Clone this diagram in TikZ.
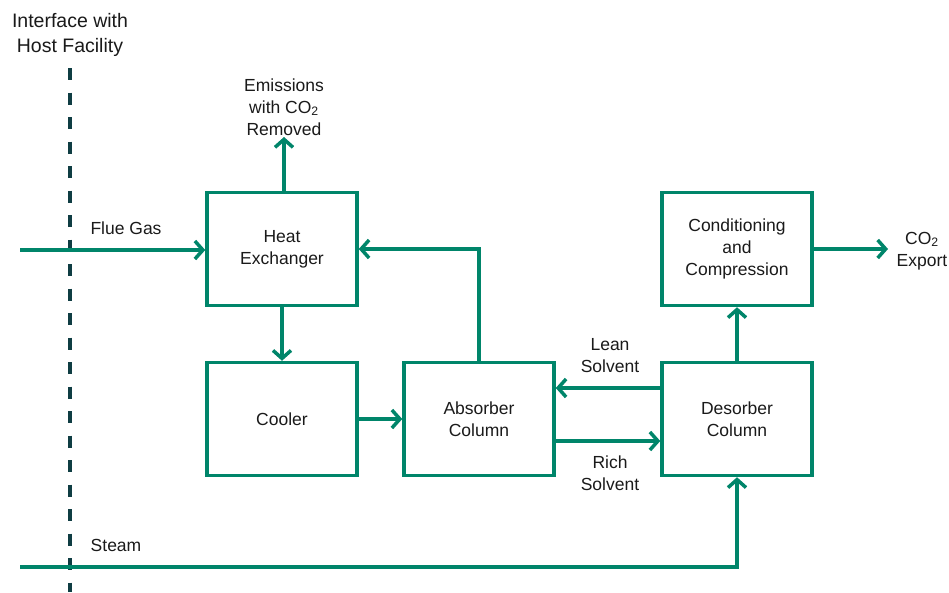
\documentclass[tikz,border=0pt]{standalone}
\usepackage{fontspec}
\setmainfont{Liberation Sans}
\usetikzlibrary{arrows.meta}
\definecolor{flowgreen}{HTML}{00856A}
\definecolor{hostline}{HTML}{0F3D43}
\definecolor{txt}{HTML}{1A1A1A}
\begin{document}
\begin{tikzpicture}[x=1pt,y=-1pt,
  every node/.style={text=txt,font=\fontsize{17.5}{22}\selectfont,align=center},
  unit/.style={draw=flowgreen,line width=3.5pt,minimum width=150pt,minimum height=113pt,inner sep=2pt},
  flow/.style={draw=flowgreen,line width=3.5pt,-{Straight Barb[length=8pt,width=18pt]}}]
\useasboundingbox[fill=white] (0,0) rectangle (949,592);

% interface boundary with the host facility
\node[font=\fontsize{19.5}{25}\selectfont] (iface) at (70,35) {Interface with\\Host Facility};
\coordinate (bt) at (70,68);
\coordinate (bb) at (70,592);
\draw[hostline,line width=3.5pt,dash pattern=on 12pt off 12.5pt] (bt) -- (bb);

% process units
\node[unit] (hx)   at (282,249) {Heat\\Exchanger};
\node[unit] (cool) at (282,419) {Cooler};
\node[unit] (abs)  at (479,419) {Absorber\\Column};
\node[unit] (des)  at (737,419) {Desorber\\Column};
\node[unit] (cond) at (737,249) {Conditioning\\and\\Compression};

% stream labels
\node (em)   at (284,107) {Emissions\\with CO\textsubscript{2}\\Removed};
\node (fgl)  at (126,228) {Flue Gas};
\node (lean) at (610,356) {Lean\\Solvent};
\node (rich) at (610,473) {Rich\\Solvent};
\node (exp)  at (922,251) {CO\textsubscript{2}\\Export};
\node (stl)  at (116,545) {Steam};

% free ends of streams
\coordinate (fg) at (20,250);
\coordinate (st) at (20,567);
\coordinate (emt) at (284,137);
\coordinate (co2) at (888,249);

% streams
\draw[flow] (fg) -- (hx.west |- fg);
\draw[flow] (hx.north -| emt) -- (emt);
\draw[flow] (hx.south) -- (cool.north);
\draw[flow] (cool.east) -- (abs.west);
\draw[flow] (abs.north) |- (hx.east);
\draw[flow] ([yshift=31pt]des.west) -- ([yshift=31pt]abs.east);
\draw[flow] ([yshift=-22pt]abs.east) -- ([yshift=-22pt]des.west);
\draw[flow] (des.north) -- (cond.south);
\draw[flow] (cond.east) -- (co2);
\draw[flow] (st) -| (des.south);
\end{tikzpicture}
\end{document}
